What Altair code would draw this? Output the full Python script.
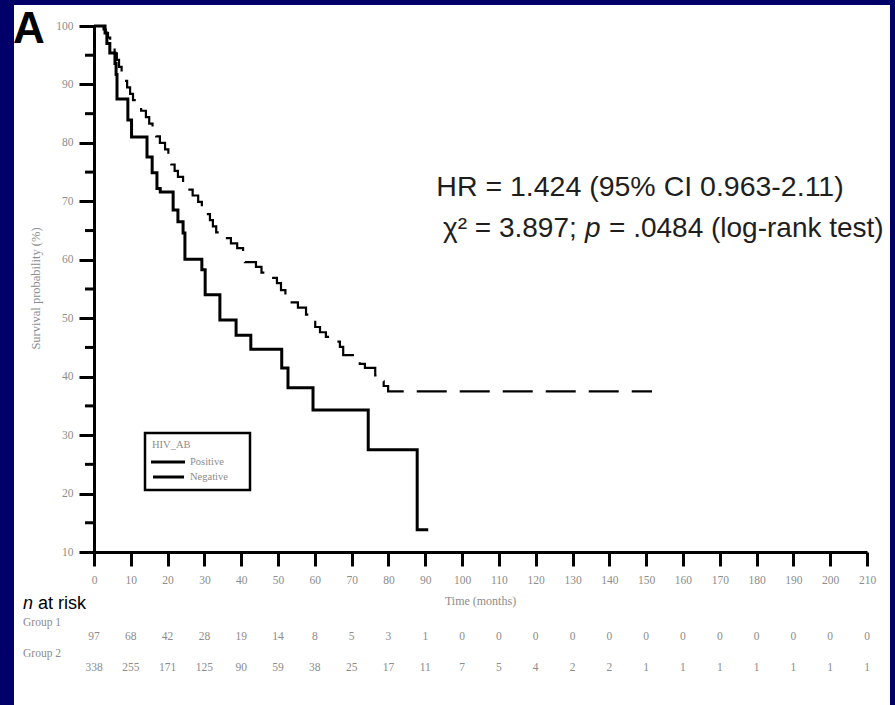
import altair as alt
import pandas as pd

# ---------------- data ----------------
group_names = ["Positive", "Negative"]

# HIV_AB positive (solid): step times (months) and survival (%)
pos_t = [0, 3.0, 3.5, 4.3, 5.7, 6.0, 6.25, 9.2, 10.2, 14.4, 15.8, 17.1, 18.0, 21.5,
         22.8, 24.2, 24.7, 29.3, 30.2, 34.2, 38.6, 42.6, 51.0, 52.7, 59.5, 74.5, 87.8, 90.8]
pos_s = [100, 98.8, 97.0, 95.4, 93.6, 91.7, 87.5, 83.9, 81.0, 77.6, 74.9, 72.2, 71.6, 68.5,
         66.5, 64.6, 60.1, 58.3, 54.0, 49.7, 47.1, 44.7, 41.5, 38.1, 34.3, 27.5, 13.8, 13.8]

# HIV_AB negative (dashed)
neg_t = [0, 2.6, 3.2, 3.8, 4.4, 5.0, 5.6, 6.2, 6.8, 7.5, 8.3, 9.0, 9.8, 10.6, 11.8, 12.8,
         14.1, 15.0, 15.9, 16.9, 17.9, 19.3, 20.2, 21.0, 21.9, 22.8, 24.2, 25.5, 26.8, 28.3,
         29.3, 30.4, 31.5, 32.3, 33.2, 35.6, 37.2, 38.9, 40.5, 41.0, 44.0, 45.5, 47.0, 49.7,
         50.8, 52.0, 53.3, 55.4, 57.6, 58.8, 60.1, 61.4, 63.0, 64.9, 66.8, 67.7, 70.8, 72.2,
         73.6, 76.4, 77.5, 78.7, 79.9, 151.6]
neg_s = [100, 99.4, 98.8, 98.0, 97.2, 96.3, 95.3, 94.2, 93.0, 91.8, 90.6, 89.5, 88.4, 87.3,
         86.4, 85.5, 84.4, 83.3, 82.2, 81.1, 80.0, 78.9, 77.6, 76.3, 75.2, 74.2, 73.0, 72.0,
         71.0, 69.9, 68.8, 67.8, 66.8, 65.7, 64.7, 63.7, 62.8, 62.0, 61.1, 59.6, 58.8, 57.8,
         56.9, 56.0, 54.8, 53.8, 52.7, 51.8, 50.6, 49.6, 48.5, 47.6, 46.8, 46.0, 45.1, 43.7,
         43.0, 42.2, 41.5, 40.2, 39.2, 38.4, 37.5, 37.5]

x_ticks = [0, 10, 20, 30, 40, 50, 60, 70, 80, 90, 100, 110, 120, 130, 140, 150, 160,
           170, 180, 190, 200, 210]
y_ticks = [10, 20, 30, 40, 50, 60, 70, 80, 90, 100]
y_minor = [15, 25, 35, 45, 55, 65, 75, 85, 95]

risk_g1 = [97, 68, 42, 28, 19, 14, 8, 5, 3, 1, 0, 0, 0, 0, 0, 0, 0, 0, 0, 0, 0, 0]
risk_g2 = [338, 255, 171, 125, 90, 59, 38, 25, 17, 11, 7, 5, 4, 2, 2, 1, 1, 1, 1, 1, 1, 1]

hr_text = "HR = 1.424 (95% CI 0.963-2.11)"
chi_text = "\u03c7\u00b2 = 3.897;"
p_text = "p"
p_rest = "= .0484 (log-rank test)"

# ---------------- tables ----------------
pos_df = pd.DataFrame({"t": pos_t, "s": pos_s})
neg_df = pd.DataFrame({"t": neg_t, "s": neg_s})
risk_df = pd.DataFrame({"t": x_ticks, "g1": risk_g1, "g2": risk_g2})
minor_df = pd.DataFrame({"v": y_minor})
one = pd.DataFrame({"a": [0]})

GREY = "#8c8c8c"
SERIF = "Liberation Serif"
SANS = "Liberation Sans"

xs = alt.Scale(domain=[0, 210], nice=False, zero=False)
ys = alt.Scale(domain=[10, 100], nice=False, zero=False)

xaxis = alt.Axis(values=x_ticks, format="d", tickSize=14, tickWidth=3, tickColor="black",
                 domainColor="black", domainWidth=3, grid=False, zindex=2,
                 labelFont=SERIF, labelFontSize=11.5, labelColor=GREY, labelPadding=8,
                 labelFlush=False, labelOverlap=False,
                 title="Time (months)", titleFont=SERIF, titleFontSize=12,
                 titleFontWeight="normal", titleColor=GREY, titleX=386, titleY=48,
                 titleAlign="center", titleBaseline="middle")
yaxis = alt.Axis(values=y_ticks, format="d", tickSize=15, tickWidth=3, tickColor="black",
                 domainColor="black", domainWidth=3, grid=False, zindex=2,
                 labelFont=SERIF, labelFontSize=11.5, labelColor=GREY, labelPadding=6,
                 labelFlush=False, labelOverlap=False,
                 title="Survival probability (%)", titleFont=SERIF, titleFontSize=12.5,
                 titleFontWeight="normal", titleColor=GREY, titleX=-59, titleY=262,
                 titleAngle=-90, titleAlign="center", titleBaseline="middle")

X = lambda f: alt.X(f, scale=xs, axis=xaxis)
Y = lambda f: alt.Y(f, scale=ys, axis=yaxis)

# white panel on navy background
bg = alt.Chart(one).mark_rect(color="white").encode(
    x=alt.value(-80), x2=alt.value(796), y=alt.value(-21), y2=alt.value(690))

pos_line = alt.Chart(pos_df).mark_line(
    interpolate="step-after", color="black", strokeWidth=3, strokeJoin="miter"
).encode(x=X("t:Q"), y=Y("s:Q"))

neg_line = alt.Chart(neg_df).mark_line(
    interpolate="step-after", color="black", strokeWidth=2.2, strokeDash=[30, 13],
    strokeJoin="miter"
).encode(x=X("t:Q"), y=Y("s:Q"))

minor = alt.Chart(minor_df).mark_rule(color="black", strokeWidth=3).encode(
    y=alt.Y("v:Q", scale=ys, axis=yaxis), x=alt.value(-9), x2=alt.value(0))

risk1 = alt.Chart(risk_df).mark_text(font=SERIF, fontSize=11.5, color=GREY,
                                     baseline="middle").encode(
    x=X("t:Q"), y=alt.value(611), text="g1:N")
risk2 = alt.Chart(risk_df).mark_text(font=SERIF, fontSize=11.5, color=GREY,
                                     baseline="middle").encode(
    x=X("t:Q"), y=alt.value(642), text="g2:N")


def label(txt, x, y, **kw):
    return alt.Chart(one).mark_text(text=txt, **kw).encode(x=alt.value(x), y=alt.value(y))


texts = [
    label("A", -81, 17, font=SANS, fontSize=44, fontWeight="bold", color="black",
          align="left", baseline="alphabetic"),
    label("n", -71, 583, font=SANS, fontSize=18, fontStyle="italic", color="black",
          align="left", baseline="alphabetic"),
    label("at risk", -56, 583, font=SANS, fontSize=18, color="black",
          align="left", baseline="alphabetic"),
    label("Group 1", -71, 597, font=SERIF, fontSize=11.5, color=GREY, align="left",
          baseline="middle"),
    label("Group 2", -71, 628, font=SERIF, fontSize=11.5, color=GREY, align="left",
          baseline="middle"),
    label(hr_text, 546, 170, font=SANS, fontSize=28.5, color="#1e1e1e", align="center",
          baseline="alphabetic"),
    label(chi_text, 349, 211, font=SANS, fontSize=28, color="#1e1e1e", align="left",
          baseline="alphabetic"),
    label(p_text, 491, 211, font=SANS, fontSize=28, fontStyle="italic", color="#1e1e1e",
          align="left", baseline="alphabetic"),
    label(p_rest, 515, 211, font=SANS, fontSize=28, color="#1e1e1e", align="left",
          baseline="alphabetic"),
]

# legend (HIV_AB)
legend = [
    alt.Chart(one).mark_rect(fill="white", stroke="black", strokeWidth=2.5).encode(
        x=alt.value(51), x2=alt.value(156), y=alt.value(407), y2=alt.value(464)),
    label("HIV_AB", 58, 419, font=SERIF, fontSize=10.5, color=GREY, align="left",
          baseline="middle"),
    alt.Chart(one).mark_rule(color="black", strokeWidth=3).encode(
        x=alt.value(57), x2=alt.value(91), y=alt.value(436)),
    alt.Chart(one).mark_rule(color="black", strokeWidth=3).encode(
        x=alt.value(59), x2=alt.value(90), y=alt.value(451)),
    label(group_names[0], 96, 436, font=SERIF, fontSize=10.5, color=GREY, align="left",
          baseline="middle"),
    label(group_names[1], 96, 451, font=SERIF, fontSize=10.5, color=GREY, align="left",
          baseline="middle"),
]

chart = alt.layer(bg, *legend, neg_line, pos_line, minor, risk1, risk2, *texts).properties(
    width=773, height=526,
    autosize=alt.AutoSizeParams(type="none"),
    padding={"left": 94, "top": 26, "right": 28, "bottom": 153},
).configure(background="#000068").configure_view(stroke=None)

chart.save("out.html", embed_options={"renderer": "svg", "actions": False})
